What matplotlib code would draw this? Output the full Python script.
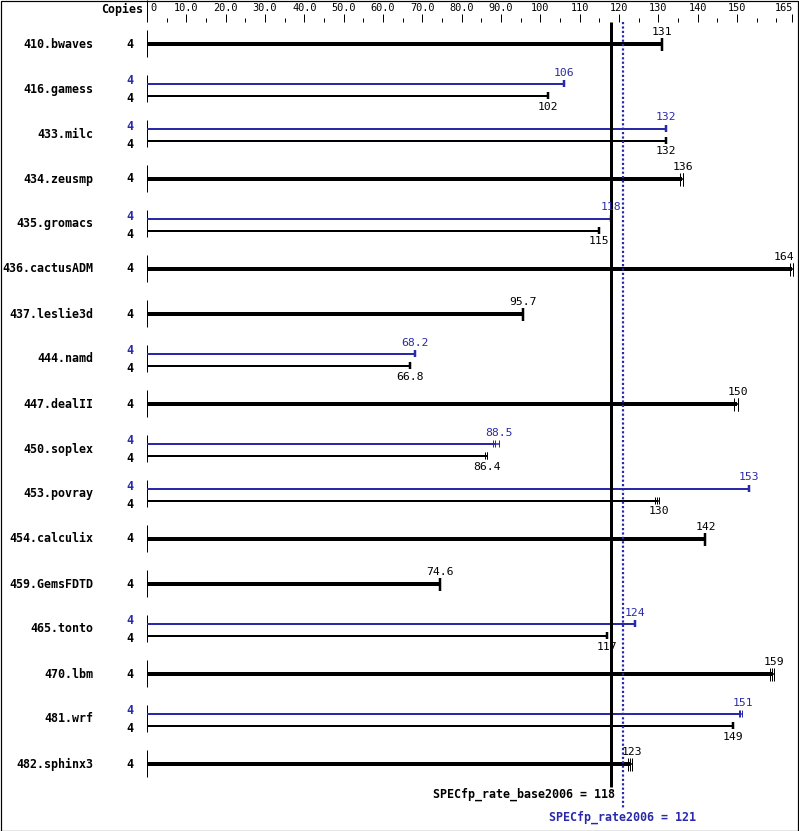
import matplotlib.pyplot as plt
from matplotlib.patches import Rectangle
from matplotlib.transforms import blended_transform_factory

# SPEC CPU2006 floating point rate results
benchmarks = ['410.bwaves', '416.gamess', '433.milc', '434.zeusmp', '435.gromacs',
              '436.cactusADM', '437.leslie3d', '444.namd', '447.dealII', '450.soplex',
              '453.povray', '454.calculix', '459.GemsFDTD', '465.tonto', '470.lbm',
              '481.wrf', '482.sphinx3']
copies = [4, 4, 4, 4, 4, 4, 4, 4, 4, 4, 4, 4, 4, 4, 4, 4, 4]
base_ratio = [131, 102, 132, 136, 115, 164, 95.7, 66.8, 150, 86.4,
              130, 142, 74.6, 117, 159, 149, 123]
peak_ratio = [None, 106, 132, None, 118, None, None, 68.2, None, 88.5,
              153, None, None, 124, None, 151, None]

# individual runs where they differ visibly
base_runs = {'434.zeusmp': [135.6, 136.2, 136.2],
             '436.cactusADM': [163.4, 164.2, 164.2],
             '447.dealII': [149.2, 150.2, 150.2],
             '450.soplex': [85.9, 86.4, 86.4],
             '453.povray': [129.1, 129.6, 130.1],
             '470.lbm': [158.4, 158.9, 159.3],
             '482.sphinx3': [122.4, 122.9, 123.4]}
peak_runs = {'450.soplex': [88.1, 88.5, 89.4],
             '481.wrf': [150.4, 150.9, 151.4]}

base_mean = 118
peak_mean = 121

major_ticks = [0, 10, 20, 30, 40, 50, 60, 70, 80, 90, 100, 110, 120, 130, 140, 150, 164]
major_labels = ['0', '10.0', '20.0', '30.0', '40.0', '50.0', '60.0', '70.0', '80.0',
                '90.0', '100', '110', '120', '130', '140', '150', '165']
minor_ticks = [5, 15, 25, 35, 45, 55, 65, 75, 85, 95, 105, 115, 125, 135, 145, 155, 160]

BLUE = '#2a2aa8'
MONO = 'DejaVu Sans Mono'
W, H = 799, 831
X0 = 147        # pixel of value 0
SCALE = 3.933   # pixels per unit
PX = 0.72       # points per pixel at 100 dpi

fig = plt.figure(figsize=(W / 100, H / 100), dpi=100)
ax = fig.add_axes([0, 0, 1, 1])
ax.set_xlim(-X0 / SCALE, (W - X0) / SCALE)
ax.set_ylim(H, 0)
ax.axis('off')
tf = blended_transform_factory(fig.transFigure, ax.transData)

fig.add_artist(Rectangle((0.5 / W, 0.5 / H), 1 - 1.5 / W, 1 - 1.5 / H,
                         transform=fig.transFigure, fill=False, ec='black', lw=1.2 * PX))

# top scale
ax.text(143 / W, 9, 'Copies', transform=tf, ha='right', va='center',
        family=MONO, fontweight='bold', fontsize=8.4)
ax.vlines(0, 0, 22, color='black', lw=PX)
ax.vlines(major_ticks[1:], 14, 22, color='black', lw=PX)
ax.vlines(minor_ticks, 18, 22, color='black', lw=PX)
for v, lab in zip(major_ticks, major_labels):
    if v == 0:
        ax.text(v + 3 / SCALE, 8, lab, ha='left', va='center', family=MONO, fontsize=7.4)
    elif v == major_ticks[-1]:
        ax.text(v + 1 / SCALE, 8, lab, ha='right', va='center', family=MONO, fontsize=7.4)
    else:
        ax.text(v, 8, lab, ha='center', va='center', family=MONO, fontsize=7.4)


def draw_bar(y, val, runs, color, thick, label_dy):
    ax.hlines(y, 0, val, color=color, lw=(4 if thick else 2) * PX, capstyle='butt')
    h = 6.5 if thick else 3.5
    if runs and len(set(runs)) > 1:
        ax.hlines(y, min(runs), max(runs), color=color, lw=1.5 * PX)
        ax.vlines(runs, y - h, y + h, color=color, lw=PX)
        end = max(runs)
    else:
        ax.vlines(val, y - h, y + h, color=color, lw=2.5 * PX)
        end = val
    if end > 160:
        ax.text(end + 1 / SCALE, y + label_dy, f'{val:g}', ha='right', va='center',
                color=color, family=MONO, fontsize=8.2)
    else:
        ax.text(end, y + label_dy, f'{val:g}', ha='center', va='center',
                color=color, family=MONO, fontsize=8.2)


for i, name in enumerate(benchmarks):
    yc = 44 + 45 * i
    ax.vlines(0, yc - 14, yc + 13, color='black', lw=PX)
    ax.text(93 / W, yc, name, transform=tf, ha='right', va='center',
            family=MONO, fontweight='bold', fontsize=8.4)
    if peak_ratio[i] is None:
        ax.text(130 / W, yc, str(copies[i]), transform=tf, ha='center', va='center',
                family=MONO, fontweight='bold', fontsize=8.4)
        draw_bar(yc, base_ratio[i], base_runs.get(name), 'black', True, -12)
    else:
        ax.text(130 / W, yc - 8, str(copies[i]), transform=tf, ha='center', va='center',
                color=BLUE, family=MONO, fontweight='bold', fontsize=8.4)
        ax.text(130 / W, yc + 10, str(copies[i]), transform=tf, ha='center', va='center',
                family=MONO, fontweight='bold', fontsize=8.4)
        draw_bar(yc - 5.5, peak_ratio[i], peak_runs.get(name), BLUE, False, -11)
        draw_bar(yc + 6.5, base_ratio[i], base_runs.get(name), 'black', False, 11)

# overall means
ax.vlines(base_mean, 22, 787, color='black', lw=3 * PX)
ax.vlines(peak_mean, 22, 808, color=BLUE, lw=2.2 * PX, linestyles=(0, (1, 1)))
ax.text(base_mean + 4 / SCALE, 794, f'SPECfp_rate_base2006 = {base_mean}', ha='right',
        va='center', family=MONO, fontweight='bold', fontsize=8.4)
ax.text(peak_mean, 817, f'SPECfp_rate2006 = {peak_mean}', ha='center', va='center',
        color=BLUE, family=MONO, fontweight='bold', fontsize=8.4)

fig.savefig('out.png', dpi=100)
